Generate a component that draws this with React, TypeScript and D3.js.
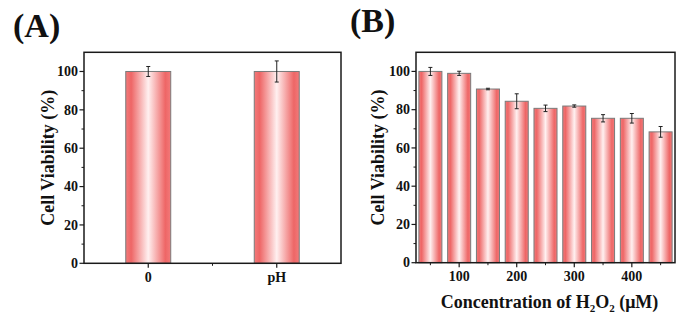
import React from "react";
import * as d3 from "d3";

const W = 677;
const H = 321;

// Panel A data
const catsA = ["0", "pH"];
const valuesA = [100, 100];
const errorsA = [2.6, 5.5];

// Panel B data
const concB = [50, 100, 150, 200, 250, 300, 350, 400, 450];
const valuesB = [100, 99.0, 90.8, 84.4, 80.7, 81.9, 75.5, 75.5, 68.4];
const errorsB = [2.1, 1.1, 0.4, 3.9, 1.7, 0.6, 1.9, 2.5, 2.8];
const ticksB = [100, 200, 300, 400];
const minorTicksB = [50, 150, 250, 350, 450];

const yTicks = [0, 20, 40, 60, 80, 100];
const yMinor = [10, 30, 50, 70, 90];

const FONT = "'Liberation Serif', 'Times New Roman', serif";
const AXIS = "#1a1a1a";

function YAxis({ y, x0 }: { y: d3.ScaleLinear<number, number>; x0: number }) {
  return (
    <g>
      {yTicks.map((t) => (
        <g key={"M" + t}>
          <line x1={x0 - 4.5} x2={x0} y1={y(t)} y2={y(t)} stroke={AXIS} strokeWidth={1.2} />
          <text
            x={x0 - 6}
            y={y(t)}
            dy="0.34em"
            textAnchor="end"
            fontFamily={FONT}
            fontWeight="bold"
            fontSize={14}
            fill="#111"
          >
            {t}
          </text>
        </g>
      ))}
      {yMinor.map((t) => (
        <line key={"m" + t} x1={x0 - 2.5} x2={x0} y1={y(t)} y2={y(t)} stroke={AXIS} strokeWidth={1} />
      ))}
    </g>
  );
}

function Frame({ x0, x1, y0, y1 }: { x0: number; x1: number; y0: number; y1: number }) {
  return (
    <rect x={x0} y={y0} width={x1 - x0} height={y1 - y0} fill="none" stroke={AXIS} strokeWidth={1.5} />
  );
}

function ErrorBar({ cx, y, v, e }: { cx: number; y: d3.ScaleLinear<number, number>; v: number; e: number }) {
  const hw = 2;
  return (
    <g stroke="#222" strokeWidth={1}>
      <line x1={cx} x2={cx} y1={y(v + e)} y2={y(v - e)} />
      <line x1={cx - hw} x2={cx + hw} y1={y(v + e)} y2={y(v + e)} />
      <line x1={cx - hw} x2={cx + hw} y1={y(v - e)} y2={y(v - e)} />
    </g>
  );
}

export default function App() {
  // Panel A geometry
  const aL = 84, aR = 341, top = 52.3, aB = 263.3;
  const xA = d3.scaleLinear().domain([0.5, 2.5]).range([aL, aR]);
  const yA = d3.scaleLinear().domain([0, 110]).range([aB, top]);
  const bwA = xA(1.35) - xA(1);

  // Panel B geometry
  const bL = 416, bR = 675, bB = 262.7;
  const xB = d3.scaleLinear().domain([25, 475]).range([bL, bR]);
  const yB = d3.scaleLinear().domain([0, 110]).range([bB, top]);
  const bwB = xB(65) - xB(25);

  return (
    <svg
      width={W}
      height={H}
      viewBox={`0 0 ${W} ${H}`}
      style={{ position: "absolute", left: 0, top: 0, background: "#fff" }}
    >
      <defs>
        <linearGradient id="barGrad" x1="0" x2="1" y1="0" y2="0">
          <stop offset="0%" stopColor="#f27a7a" />
          <stop offset="12%" stopColor="#ee6666" />
          <stop offset="50%" stopColor="#fff0f0" />
          <stop offset="88%" stopColor="#ee6666" />
          <stop offset="100%" stopColor="#f27a7a" />
        </linearGradient>
      </defs>
      <rect x={0} y={0} width={W} height={H} fill="#fff" />

      {/* Panel A */}
      <text x={13} y={37} fontFamily={FONT} fontWeight="bold" fontSize={34} fill="#111">
        (A)
      </text>
      {catsA.map((c, i) => {
        const cx = xA(i + 1);
        return (
          <g key={c}>
            <rect
              x={cx - bwA / 2}
              y={yA(valuesA[i])}
              width={bwA}
              height={yA(0) - yA(valuesA[i])}
              fill="url(#barGrad)"
              stroke="#7a7a7a"
              strokeWidth={1}
            />
            <ErrorBar cx={cx} y={yA} v={valuesA[i]} e={errorsA[i]} />
          </g>
        );
      })}
      <Frame x0={aL} x1={aR} y0={top} y1={aB} />
      <YAxis y={yA} x0={aL} />
      {catsA.map((c, i) => (
        <g key={"xt" + c}>
          <line x1={xA(i + 1)} x2={xA(i + 1)} y1={aB} y2={aB + 4.5} stroke={AXIS} strokeWidth={1.2} />
          <text
            x={xA(i + 1)}
            y={282}
            textAnchor="middle"
            fontFamily={FONT}
            fontWeight="bold"
            fontSize={14}
            fill="#111"
          >
            {c}
          </text>
        </g>
      ))}
      <line x1={xA(1.5)} x2={xA(1.5)} y1={aB} y2={aB + 2.5} stroke={AXIS} strokeWidth={1} />
      <text
        transform={`translate(54, ${(top + aB) / 2}) rotate(-90)`}
        textAnchor="middle"
        fontFamily={FONT}
        fontWeight="bold"
        fontSize={18}
        fill="#111"
      >
        Cell Viability (%)
      </text>

      {/* Panel B */}
      <text x={350} y={32} fontFamily={FONT} fontWeight="bold" fontSize={34} fill="#111">
        (B)
      </text>
      {concB.map((c, i) => {
        const cx = xB(c);
        return (
          <g key={"b" + c}>
            <rect
              x={cx - bwB / 2}
              y={yB(valuesB[i])}
              width={bwB}
              height={yB(0) - yB(valuesB[i])}
              fill="url(#barGrad)"
              stroke="#7a7a7a"
              strokeWidth={1}
            />
            <ErrorBar cx={cx} y={yB} v={valuesB[i]} e={errorsB[i]} />
          </g>
        );
      })}
      <Frame x0={bL} x1={bR} y0={top} y1={bB} />
      <YAxis y={yB} x0={bL} />
      {ticksB.map((t) => (
        <g key={"xtb" + t}>
          <line x1={xB(t)} x2={xB(t)} y1={bB} y2={bB + 4.5} stroke={AXIS} strokeWidth={1.2} />
          <text
            x={xB(t)}
            y={281}
            textAnchor="middle"
            fontFamily={FONT}
            fontWeight="bold"
            fontSize={14}
            fill="#111"
          >
            {t}
          </text>
        </g>
      ))}
      {minorTicksB.map((t) => (
        <line key={"mb" + t} x1={xB(t)} x2={xB(t)} y1={bB} y2={bB + 2.5} stroke={AXIS} strokeWidth={1} />
      ))}
      <text
        transform={`translate(384, ${(top + bB) / 2}) rotate(-90)`}
        textAnchor="middle"
        fontFamily={FONT}
        fontWeight="bold"
        fontSize={18}
        fill="#111"
      >
        Cell Viability (%)
      </text>
      <text
        x={549.5}
        y={308}
        textAnchor="middle"
        fontFamily={FONT}
        fontWeight="bold"
        fontSize={18}
        fill="#111"
      >
        Concentration of H
        <tspan fontSize={11} dy={4}>2</tspan>
        <tspan dy={-4}>O</tspan>
        <tspan fontSize={11} dy={4}>2</tspan>
        <tspan dy={-4}> (μM)</tspan>
      </text>
    </svg>
  );
}
